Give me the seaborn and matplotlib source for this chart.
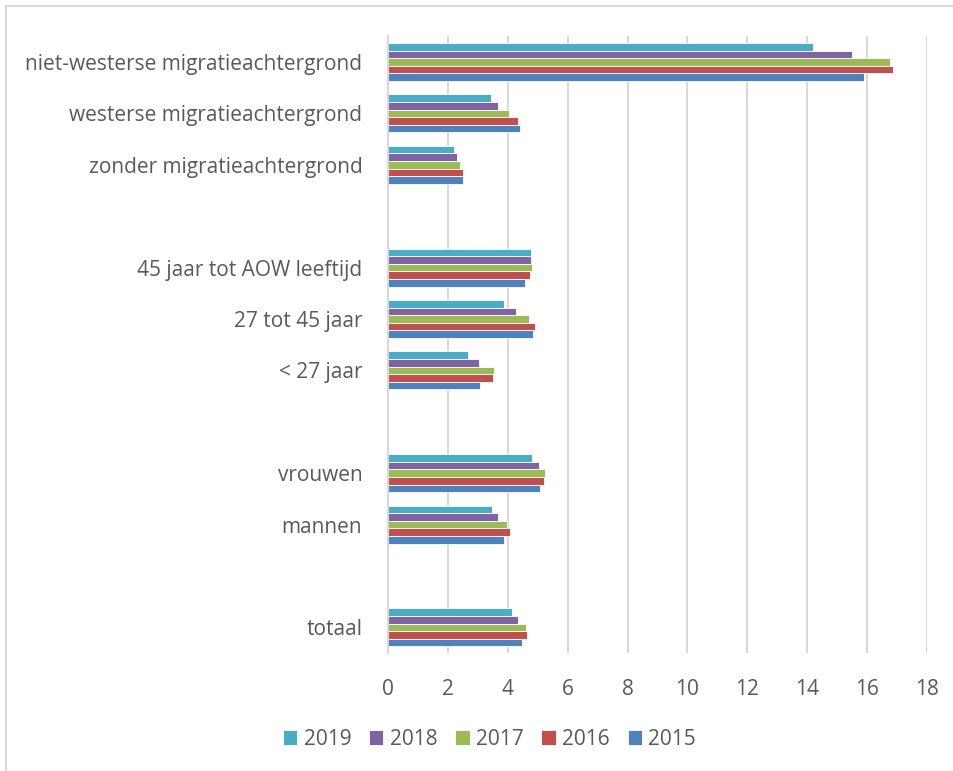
import matplotlib
matplotlib.use("Agg")

import matplotlib.pyplot as plt
import matplotlib.lines as mlines
import seaborn as sns
import pandas as pd

# --- Data ---
CATEGORIES = [
    "niet-westerse migratieachtergrond",
    "westerse migratieachtergrond",
    "zonder migratieachtergrond",
    "45 jaar tot AOW leeftijd",
    "27 tot 45 jaar",
    "< 27 jaar",
    "vrouwen",
    "mannen",
    "totaal",
]
# order from top to bottom, with empty slots between the groups
ORDER = [
    "niet-westerse migratieachtergrond",
    "westerse migratieachtergrond",
    "zonder migratieachtergrond",
    " ",
    "45 jaar tot AOW leeftijd",
    "27 tot 45 jaar",
    "< 27 jaar",
    "  ",
    "vrouwen",
    "mannen",
    "   ",
    "totaal",
]
YEARS = ["2019", "2018", "2017", "2016", "2015"]

v2019 = [14.19, 3.44, 2.21, 4.78, 3.86, 2.68, 4.82, 3.47, 4.14]
v2018 = [15.50, 3.69, 2.29, 4.79, 4.26, 3.04, 5.03, 3.68, 4.34]
v2017 = [16.77, 4.04, 2.41, 4.82, 4.70, 3.54, 5.23, 3.99, 4.61]
v2016 = [16.88, 4.34, 2.50, 4.74, 4.90, 3.51, 5.21, 4.07, 4.64]
v2015 = [15.90, 4.41, 2.50, 4.56, 4.84, 3.08, 5.07, 3.88, 4.47]

COLORS = {
    "2019": "#4BACC6",
    "2018": "#8064A2",
    "2017": "#9BBB59",
    "2016": "#C0504D",
    "2015": "#4F81BD",
}

TEXT = "#595959"
GRID = "#D9D9D9"

sns.set_theme(style="white")
plt.rcParams["font.family"] = ["Open Sans", "DejaVu Sans"]

rows = []
for year, vals in zip(YEARS, [v2019, v2018, v2017, v2016, v2015]):
    for cat, v in zip(CATEGORIES, vals):
        rows.append({"categorie": cat, "jaar": year, "waarde": v})
df = pd.DataFrame(rows)

fig = plt.figure(figsize=(9.54, 7.71), dpi=100)
ax = fig.add_axes([0.4067, 0.153, 0.565, 0.800])

sns.barplot(data=df, x="waarde", y="categorie", hue="jaar", order=ORDER,
            hue_order=YEARS, palette=COLORS, saturation=1, orient="h",
            width=0.74, gap=0, errorbar=None, ax=ax, legend=True,
            linewidth=0.6, edgecolor="white")

ax.set_xlim(0, 18)
ax.set_xticks(range(0, 19, 2))
ax.set_ylim(len(ORDER) - 0.5, -0.5)
ax.set_xlabel("")
ax.set_ylabel("")
ax.grid(axis="x", color=GRID, linewidth=1.5)
ax.set_axisbelow(True)
for side in ["top", "right", "bottom"]:
    ax.spines[side].set_visible(False)
ax.spines["left"].set_color(GRID)
ax.spines["left"].set_linewidth(1.5)
ax.tick_params(axis="both", length=0, colors=TEXT, labelsize=15)
ax.tick_params(axis="x", pad=19)
ax.tick_params(axis="y", pad=18.5)

handles, labels = ax.get_legend_handles_labels()
ax.get_legend().remove()
fig.legend(handles, labels, loc="center", bbox_to_anchor=(0.513, 0.041),
           ncol=5, frameon=False, fontsize=15, labelcolor=TEXT,
           handlelength=0.7, handleheight=0.7, handletextpad=0.3,
           columnspacing=0.85)

# outer chart frame (top and left edges)
fig.add_artist(mlines.Line2D([0.006, 1.0], [0.992, 0.992], color=GRID, linewidth=1.5))
fig.add_artist(mlines.Line2D([0.006, 0.006], [0.0, 0.992], color=GRID, linewidth=1.5))

fig.savefig("out.png", dpi=100, facecolor="white")
plt.close(fig)
